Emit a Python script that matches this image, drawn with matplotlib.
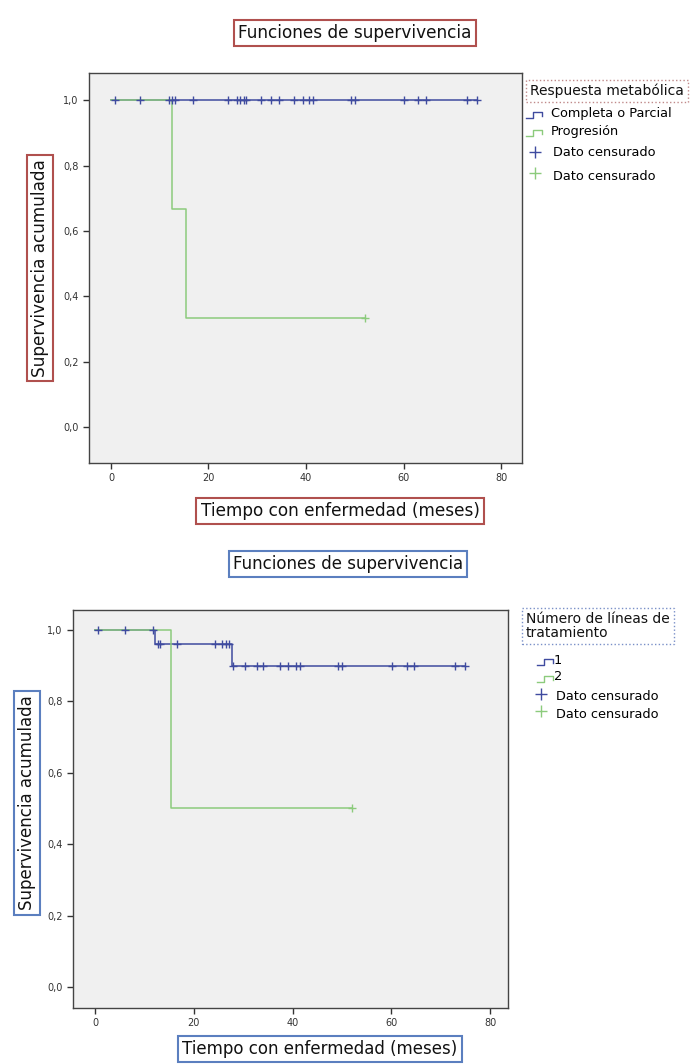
import matplotlib
matplotlib.use("Agg")
import matplotlib.pyplot as plt
from matplotlib.lines import Line2D
import numpy as np

plt.rcParams['font.family'] = ['DejaVu Sans']

# ---------------- data ----------------
x_ticks = [0, 20, 40, 60, 80]
y_ticks = [0.0, 0.2, 0.4, 0.6, 0.8, 1.0]
y_tick_labels = ['0,0', '0,2', '0,4', '0,6', '0,8', '1,0']

# Top chart: Respuesta metabólica
top_blue_events = []
top_blue_levels = []
top_blue_end = 75.1
top_blue_censored = [0.8, 6.0, 12.0, 12.6, 13.2, 16.8, 24.0, 25.9, 26.5, 27.2, 27.8,
                     30.7, 32.8, 34.5, 37.6, 39.3, 40.7, 41.4, 49.3, 50.0, 60.1,
                     63.0, 64.7, 73.0, 75.1]
top_green_events = [12.6, 15.4]
top_green_levels = [0.667, 0.333]
top_green_end = 52.0
top_green_censored = [52.0]
top_series = ['Completa o Parcial', 'Progresión']
top_legend_title = 'Respuesta metabólica'

# Bottom chart: Número de líneas de tratamiento
bot_blue_events = [12.1, 27.7]
bot_blue_levels = [0.961, 0.899]
bot_blue_end = 74.9
bot_blue_censored = [0.7, 6.1, 11.8, 12.7, 13.2, 16.7, 24.2, 25.8, 26.5, 27.1,
                     28.0, 30.4, 32.7, 34.1, 37.4, 39.1, 40.7, 41.4, 49.2, 49.9,
                     60.1, 63.1, 64.5, 72.9, 74.9]
bot_green_events = [15.4]
bot_green_levels = [0.5]
bot_green_end = 52.0
bot_green_censored = [52.0]
bot_series = ['1', '2']
bot_legend_title = 'Número de líneas de\ntratamiento'

censor_label = 'Dato censurado'
title_text = 'Funciones de supervivencia'
xlabel_text = 'Tiempo con enfermedad (meses)'
ylabel_text = 'Supervivencia acumulada'

BLUE = '#3f4b9f'
GREEN = '#8ccb7c'
RED_BOX = '#b0504e'
BLUE_BOX = '#5b7fbf'
BG = '#f0f0f0'

W, H = 694, 1064
fig = plt.figure(figsize=(W / 100, H / 100), dpi=100)


def fx(x):
    return x / W


def fy(y):
    return 1 - y / H


def km(events, levels, end):
    xs = [0.0] + list(events) + [end]
    ys = [1.0] + list(levels) + [levels[-1] if levels else 1.0]
    return xs, ys


def level_at(xs, ys, t):
    idx = 0
    for i, xv in enumerate(xs[:-1]):
        if xv <= t:
            idx = i
    return ys[idx]


def draw_curve(ax, events, levels, end, censored, color):
    xs, ys = km(events, levels, end)
    ax.step(xs, ys, where='post', color=color, lw=1.1, zorder=3)
    cy = [level_at(xs, ys, t) for t in censored]
    ax.plot(censored, cy, ls='none', marker='+', ms=5.5, mew=1.0, color=color, zorder=4)


def setup_axes(rect, xlim, ylim):
    ax = fig.add_axes(rect)
    ax.set_facecolor(BG)
    ax.set_xlim(*xlim)
    ax.set_ylim(*ylim)
    ax.set_xticks(x_ticks)
    ax.set_xticklabels([str(v) for v in x_ticks])
    ax.set_yticks(y_ticks)
    ax.set_yticklabels(y_tick_labels)
    ax.tick_params(direction='out', length=4, width=1, labelsize=7, colors='#333333')
    for s in ax.spines.values():
        s.set_color('#444444')
        s.set_linewidth(1.0)
    return ax


def box_text(x, y, s, ec, rotation=0, size=12):
    fig.text(fx(x), fy(y), s, ha='center', va='center', rotation=rotation, fontsize=size,
             color='#111111',
             bbox=dict(boxstyle='square,pad=0.25', fc='white', ec=ec, lw=1.5))


def step_symbol(x, y, color):
    xs = [x, x + 7, x + 7, x + 16, x + 16]
    ys = [y + 3, y + 3, y - 3, y - 3, y + 1]
    fig.add_artist(Line2D([fx(v) for v in xs], [fy(v) for v in ys],
                          transform=fig.transFigure, color=color, lw=1.0))


def plus_symbol(x, y, color):
    fig.add_artist(Line2D([fx(x)], [fy(y)], transform=fig.transFigure, ls='none',
                          marker='+', ms=8, mew=1.0, color=color))


LEG = 9.3

# ---------------- top chart ----------------
ax1 = setup_axes([fx(89), fy(463), fx(522) - fx(89), fy(73) - fy(463)],
                 (-4.5, 84.3), (-0.11, 1.083))
draw_curve(ax1, top_blue_events, top_blue_levels, top_blue_end, top_blue_censored, BLUE)
draw_curve(ax1, top_green_events, top_green_levels, top_green_end, top_green_censored, GREEN)

box_text(355, 33, title_text, RED_BOX, size=12.2)
box_text(340, 511, xlabel_text, RED_BOX, size=12.2)
box_text(40, 268, ylabel_text, RED_BOX, rotation=90, size=12.2)

fig.text(fx(530), fy(91), top_legend_title, ha='left', va='center', fontsize=10,
         color='#111111',
         bbox=dict(boxstyle='square,pad=0.3', fc='white', ec='#c08a8a', lw=1.0, ls=':'))
step_symbol(526, 115, BLUE)
fig.text(fx(551), fy(113), top_series[0], ha='left', va='center', fontsize=LEG)
step_symbol(526, 133, GREEN)
fig.text(fx(551), fy(131), top_series[1], ha='left', va='center', fontsize=LEG)
plus_symbol(535, 152, BLUE)
fig.text(fx(553), fy(153), censor_label, ha='left', va='center', fontsize=LEG)
plus_symbol(535, 173, GREEN)
fig.text(fx(553), fy(177), censor_label, ha='left', va='center', fontsize=LEG)

# ---------------- bottom chart ----------------
ax2 = setup_axes([fx(73), fy(1008), fx(508) - fx(73), fy(610) - fy(1008)],
                 (-4.45, 83.6), (-0.059, 1.056))
draw_curve(ax2, bot_blue_events, bot_blue_levels, bot_blue_end, bot_blue_censored, BLUE)
draw_curve(ax2, bot_green_events, bot_green_levels, bot_green_end, bot_green_censored, GREEN)

box_text(348, 564, title_text, BLUE_BOX, size=12)
box_text(320, 1049, xlabel_text, BLUE_BOX, size=12)
box_text(27, 803, ylabel_text, BLUE_BOX, rotation=90, size=12)

fig.text(fx(526), fy(626), bot_legend_title, ha='left', va='center', fontsize=10,
         color='#111111', linespacing=1.05,
         bbox=dict(boxstyle='square,pad=0.3', fc='white', ec='#7a90c8', lw=1.0, ls=':'))
step_symbol(537, 662, BLUE)
fig.text(fx(554), fy(660), bot_series[0], ha='left', va='center', fontsize=LEG)
step_symbol(537, 679, GREEN)
fig.text(fx(554), fy(677), bot_series[1], ha='left', va='center', fontsize=LEG)
plus_symbol(541, 694, BLUE)
fig.text(fx(556), fy(696), censor_label, ha='left', va='center', fontsize=LEG)
plus_symbol(541, 711, GREEN)
fig.text(fx(556), fy(715), censor_label, ha='left', va='center', fontsize=LEG)

fig.savefig('out.png', dpi=100, facecolor='white')
